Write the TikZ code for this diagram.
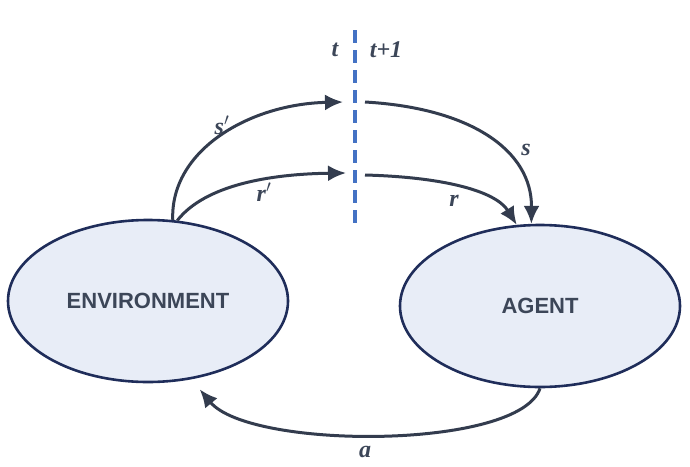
\documentclass[tikz,border=0pt]{standalone}
\usepackage{fontspec}
\setmainfont{Liberation Serif}
\setsansfont{Liberation Sans}
\usetikzlibrary{shapes.geometric,arrows.meta}
\definecolor{ellfill}{HTML}{E8EDF7}
\definecolor{elldraw}{HTML}{1F2D5A}
\definecolor{arrcol}{HTML}{333C4E}
\definecolor{txtcol}{HTML}{3C4658}
\definecolor{dashblue}{HTML}{4472C4}
\tikzset{
  stateell/.style={ellipse, draw=elldraw, fill=ellfill, line width=2.6pt,
    minimum width=280pt, minimum height=162pt, inner sep=0pt,
    font=\sffamily\bfseries\fontsize{22}{24}\selectfont, text=txtcol},
  flow/.style={draw=arrcol, line width=3pt, -{Latex[length=18pt,width=16pt]}},
  lbl/.style={font=\bfseries\itshape\fontsize{24}{26}\selectfont, text=txtcol},
  timeline/.style={draw=dashblue, line width=4.5pt, dash pattern=on 13pt off 7pt}
}
\begin{document}
\begin{tikzpicture}[x=1pt,y=-1pt]
\useasboundingbox (0,0) rectangle (690,466);
\node[stateell] (env) at (148,301) {ENVIRONMENT};
\node[stateell] (agent) at (540,306) {AGENT};
\coordinate (ltop) at (355,30);
\coordinate (lbot) at (355,226);
\draw[timeline] (ltop) -- (lbot);
\node[lbl] (tl) at (335,50) {t};
\node[lbl] (tr) at (386,50) {t+1};
\coordinate (sin) at (343,102);
\coordinate (rin) at (346,173);
\coordinate (sout) at (365,102);
\coordinate (rout) at (365,175);
\draw[flow] (env.73) .. controls (170,150) and (250,104) .. (sin);
\draw[flow] (env.70) .. controls (205,185) and (270,174) .. (rin);
\draw[flow] (sout) .. controls (470,108) and (532,150) .. (agent.96);
\draw[flow] (rout) .. controls (440,177) and (495,190) .. (agent.106);
\draw[flow, shorten >=13pt] (agent.south) .. controls (520,450) and (250,450) .. (env.-61);
\node[lbl] (ls1) at (222,125) {s$'$};
\node[lbl] (lr1) at (264,192) {r$'$};
\node[lbl] (ls) at (526,150) {s};
\node[lbl] (lr) at (454,201) {r};
\node[lbl] (la) at (365,452) {a};
\end{tikzpicture}
\end{document}
